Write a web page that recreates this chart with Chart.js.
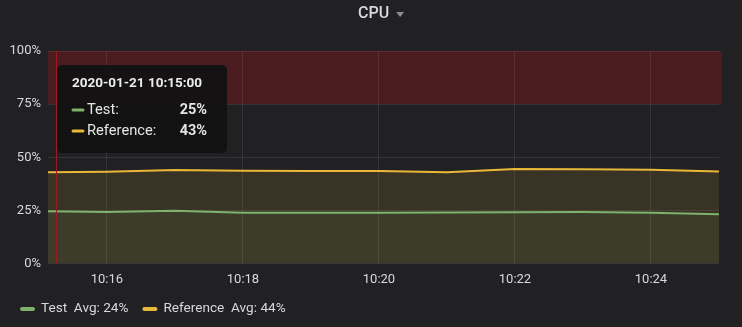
<!DOCTYPE html>
<html>
<head>
<meta charset="utf-8">
<title>CPU</title>
<script src="https://cdn.jsdelivr.net/npm/chart.js@4.4.1/dist/chart.umd.min.js"></script>
<style>
  html, body { margin: 0; padding: 0; background: #212124; }
  #wrap { width: 742px; height: 327px; }
  canvas { display: block; }
</style>
</head>
<body>
<div id="wrap"><canvas id="cpu" width="742" height="327"></canvas></div>
<script>
// ---- data ----
const panelTitle = 'CPU';
const sampleDate = '2020-01-21';
const times = ['10:15', '10:16', '10:17', '10:18', '10:19', '10:20', '10:21', '10:22', '10:23', '10:24', '10:25'];
const seriesNames = ['Test', 'Reference'];
const testCpu = [24.6, 24.2, 24.8, 23.9, 23.9, 23.9, 24.0, 24.1, 24.2, 23.9, 23.2];
const referenceCpu = [42.9, 43.2, 44.0, 43.6, 43.5, 43.5, 42.9, 44.5, 44.3, 44.1, 43.3];
const xTickLabels = ['10:16', '10:18', '10:20', '10:22', '10:24'];
const yTickValues = [0, 25, 50, 75, 100];
const thresholdRange = [75, 100];
const viewRange = ['10:15:08', '10:25:00'];
const hoverTime = '10:15:15';
const hoverIndex = 0;

// ---- helpers ----
function toMinutes(t) {
  const p = t.split(':').map(Number);
  return p[0] * 60 + p[1] + (p[2] || 0) / 60;
}
function minutesToLabel(v) {
  const h = Math.floor(v / 60), m = Math.round(v - h * 60);
  return String(h).padStart(2, '0') + ':' + String(m).padStart(2, '0');
}
function average(arr) { return arr.reduce((a, b) => a + b, 0) / arr.length; }

const COLORS = {
  bg: '#212124',
  text: '#d8d9da',
  grid: 'rgba(255,255,255,0.09)',
  threshold: '#4a1b1f',
  crosshair: '#9e1a22',
  test: '#7eb26d',
  reference: '#eab839'
};
const FONT = 'Roboto, "Noto Sans", sans-serif';

const seriesValues = [testCpu, referenceCpu];
const seriesColors = [COLORS.test, COLORS.reference];
const seriesFills = ['rgba(126,178,109,0.07)', 'rgba(234,184,57,0.12)'];

const datasets = seriesValues.map((vals, i) => ({
  label: seriesNames[i],
  data: vals.map((v, j) => ({ x: toMinutes(times[j]), y: v })),
  borderColor: seriesColors[i],
  backgroundColor: seriesFills[i],
  borderWidth: 2,
  pointRadius: 0,
  tension: 0,
  fill: 'origin'
}));

// panel background, title, threshold band, crosshair, legend and hover box
const panelPlugin = {
  id: 'panel',
  beforeDraw(chart) {
    const { ctx, chartArea, scales } = chart;
    ctx.save();
    ctx.fillStyle = COLORS.bg;
    ctx.fillRect(0, 0, chart.width, chart.height);
    const yTop = scales.y.getPixelForValue(thresholdRange[1]);
    const yBot = scales.y.getPixelForValue(thresholdRange[0]);
    ctx.fillStyle = COLORS.threshold;
    ctx.fillRect(chartArea.left, yTop, chartArea.right - chartArea.left + 3, yBot - yTop);

    // title with dropdown caret
    ctx.font = '500 16px ' + FONT;
    ctx.fillStyle = COLORS.text;
    ctx.textBaseline = 'middle';
    ctx.textAlign = 'left';
    const tw = ctx.measureText(panelTitle).width;
    const tx = 358;
    ctx.fillText(panelTitle, tx, 14);
    ctx.fillStyle = '#8e8e90';
    ctx.beginPath();
    ctx.moveTo(tx + tw + 7, 12);
    ctx.lineTo(tx + tw + 15, 12);
    ctx.lineTo(tx + tw + 11, 17);
    ctx.closePath();
    ctx.fill();
    ctx.restore();
  },
  afterDatasetsDraw(chart) {
    const { ctx, chartArea, scales } = chart;
    const x = Math.round(scales.x.getPixelForValue(toMinutes(hoverTime))) + 0.5;
    ctx.save();
    ctx.strokeStyle = COLORS.crosshair;
    ctx.lineWidth = 1;
    ctx.beginPath();
    ctx.moveTo(x, chartArea.top);
    ctx.lineTo(x, chartArea.bottom);
    ctx.stroke();
    ctx.restore();
  },
  afterDraw(chart) {
    const { ctx } = chart;
    ctx.save();
    // legend
    ctx.font = '13.6px ' + FONT;
    ctx.textBaseline = 'middle';
    ctx.textAlign = 'left';
    let lx = 20;
    const ly = 309;
    seriesNames.forEach((name, i) => {
      ctx.strokeStyle = seriesColors[i];
      ctx.lineWidth = 4;
      ctx.lineCap = 'round';
      ctx.beginPath();
      ctx.moveTo(lx + 2, ly);
      ctx.lineTo(lx + 13, ly);
      ctx.stroke();
      const txt = name + '  Avg: ' + Math.round(average(seriesValues[i])) + '%';
      ctx.fillStyle = COLORS.text;
      ctx.fillText(txt, lx + 21, ly);
      lx += 21 + ctx.measureText(txt).width + 14;
    });

    // hover box
    const bx = 57, by = 65, bw = 170, bh = 88;
    ctx.fillStyle = 'rgba(17,17,18,0.93)';
    ctx.beginPath();
    ctx.roundRect(bx, by, bw, bh, 5);
    ctx.fill();
    ctx.fillStyle = '#ececec';
    ctx.font = 'bold 13.5px ' + FONT;
    ctx.fillText(sampleDate + ' ' + times[hoverIndex] + ':00', bx + 15, by + 19);
    seriesNames.forEach((name, i) => {
      const ry = by + 45 + i * 21;
      ctx.strokeStyle = seriesColors[i];
      ctx.lineWidth = 3;
      ctx.lineCap = 'round';
      ctx.beginPath();
      ctx.moveTo(bx + 16, ry);
      ctx.lineTo(bx + 26, ry);
      ctx.stroke();
      ctx.fillStyle = '#e4e4e4';
      ctx.font = '14.7px ' + FONT;
      ctx.textAlign = 'left';
      ctx.fillText(name + ':', bx + 30, ry);
      ctx.font = 'bold 14.5px ' + FONT;
      ctx.textAlign = 'right';
      ctx.fillText(Math.round(seriesValues[i][hoverIndex]) + '%', bx + 150, ry);
    });
    ctx.restore();
  }
};

new Chart(document.getElementById('cpu'), {
  type: 'line',
  data: { datasets },
  options: {
    responsive: false,
    animation: false,
    devicePixelRatio: 1,
    layout: { padding: { top: 51, right: 23, bottom: 33.5, left: 0 } },
    plugins: { legend: { display: false }, tooltip: { enabled: false }, title: { display: false } },
    scales: {
      x: {
        type: 'linear',
        min: toMinutes(viewRange[0]),
        max: toMinutes(viewRange[1]),
        afterBuildTicks(scale) { scale.ticks = xTickLabels.map(l => ({ value: toMinutes(l) })); },
        afterFit(scale) { scale.height = 30; },
        ticks: {
          color: COLORS.text,
          font: { family: FONT, size: 13 },
          padding: 8,
          maxRotation: 0,
          callback: v => minutesToLabel(v)
        },
        grid: { color: COLORS.grid, drawTicks: false },
        border: { display: false }
      },
      y: {
        min: 0,
        max: 100,
        afterBuildTicks(scale) { scale.ticks = yTickValues.map(v => ({ value: v })); },
        afterFit(scale) { scale.width = 48; },
        ticks: {
          color: COLORS.text,
          font: { family: FONT, size: 13 },
          padding: 7,
          callback: v => v + '%'
        },
        grid: { color: COLORS.grid, drawTicks: false },
        border: { display: false }
      }
    }
  },
  plugins: [panelPlugin]
});
</script>
</body>
</html>
